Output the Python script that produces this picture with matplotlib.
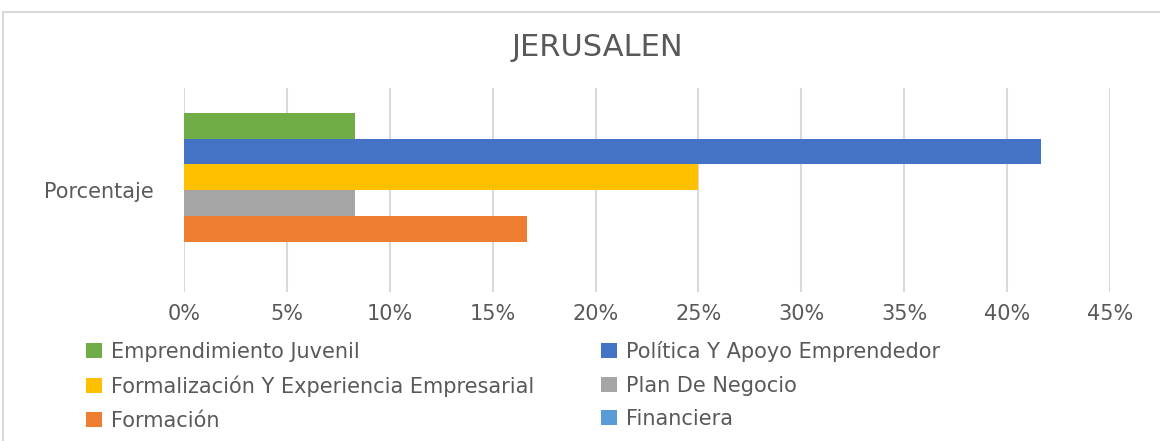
import matplotlib
matplotlib.use("Agg")
import matplotlib.pyplot as plt
from matplotlib.patches import Rectangle
from matplotlib.ticker import PercentFormatter, MultipleLocator

title = "JERUSALEN"
category = "Porcentaje"
series_names = [
    "Emprendimiento Juvenil",
    "Política Y Apoyo Emprendedor",
    "Formalización Y Experiencia Empresarial",
    "Plan De Negocio",
    "Formación",
    "Financiera",
]
values = [8.33, 41.67, 25.0, 8.33, 16.67, 0.0]
colors = ["#70AD47", "#4472C4", "#FFC000", "#A5A5A5", "#ED7D31", "#5B9BD5"]

plt.rcParams['font.family'] = ['DejaVu Sans']
txt = "#595959"

W, H = 1160, 441
fig = plt.figure(figsize=(W / 100, H / 100), dpi=100)
fig.patch.set_facecolor("white")

# outer chart frame
fig.patches.append(Rectangle((3 / W, -0.05), 1.2, (H - 12) / H + 0.05,
                             transform=fig.transFigure, fill=False,
                             edgecolor="#d9d9d9", linewidth=1.5))

left, right, top, bottom = 184 / W, 1110 / W, 88 / H, 292 / H
ax = fig.add_axes([left, 1 - bottom, right - left, bottom - top])

n = len(values)
h = 1.0
for i, (name, v, c) in enumerate(zip(series_names, values, colors)):
    y = -(n - 1) / 2 + i
    ax.barh(y * h, v, height=h, color=c, label=name, zorder=3)

span = 204 / 25.75
ax.set_ylim(span / 2, -span / 2)
ax.set_xlim(0, 45)
ax.xaxis.set_major_locator(MultipleLocator(5))
ax.xaxis.set_major_formatter(PercentFormatter(decimals=0))
ax.set_yticks([0])
ax.set_yticklabels([category])
ax.grid(axis="x", color="#d9d9d9", linewidth=1.5, zorder=0)
for s in ax.spines.values():
    s.set_visible(False)
ax.tick_params(axis="both", length=0, colors=txt, labelsize=15)
ax.tick_params(axis="x", pad=9)
ax.tick_params(axis="y", pad=22)

fig.text(597 / W, 1 - 47 / H, title, ha="center", va="center",
         fontsize=22, color=txt)

handles, labels = ax.get_legend_handles_labels()
order = [0, 2, 4, 1, 3, 5]
leg = fig.legend([handles[i] for i in order], [labels[i] for i in order],
                 ncol=2, loc="upper left",
                 bbox_to_anchor=(86 / W, 1 - 341 / H), frameon=False,
                 fontsize=15, labelcolor=txt, handlelength=0.75,
                 handleheight=0.75, handletextpad=0.45, labelspacing=0.65,
                 columnspacing=3.2, borderaxespad=0, borderpad=0)

fig.savefig("out.png", dpi=100, facecolor="white")
